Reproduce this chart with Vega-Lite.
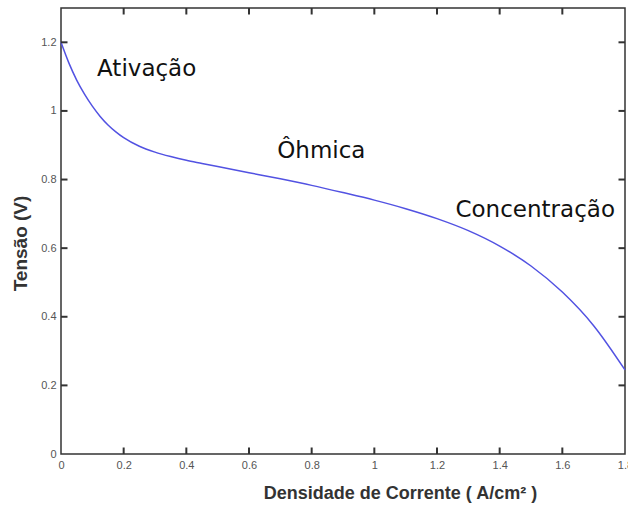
{
  "$schema": "https://vega.github.io/schema/vega-lite/v6.json",
  "width": 564,
  "height": 446,
  "autosize": {"type": "none"},
  "padding": {"left": 61, "top": 8, "right": 3, "bottom": 51},
  "background": "white",
  "config": {"view": {"stroke": "#333", "strokeWidth": 1.5}},
  "datasets": {
    "curve": [
      {"j": 0, "v": 1.2},
      {"j": 0.025, "v": 1.14},
      {"j": 0.05, "v": 1.09},
      {"j": 0.075, "v": 1.049},
      {"j": 0.1, "v": 1.014},
      {"j": 0.125, "v": 0.984},
      {"j": 0.15, "v": 0.959},
      {"j": 0.175, "v": 0.939},
      {"j": 0.2, "v": 0.922},
      {"j": 0.25, "v": 0.897},
      {"j": 0.3, "v": 0.88},
      {"j": 0.35, "v": 0.867},
      {"j": 0.4, "v": 0.856},
      {"j": 0.45, "v": 0.847},
      {"j": 0.5, "v": 0.838},
      {"j": 0.6, "v": 0.82},
      {"j": 0.7, "v": 0.802},
      {"j": 0.8, "v": 0.783},
      {"j": 0.9, "v": 0.762},
      {"j": 1.0, "v": 0.74},
      {"j": 1.1, "v": 0.715},
      {"j": 1.2, "v": 0.686},
      {"j": 1.3, "v": 0.651},
      {"j": 1.4, "v": 0.606},
      {"j": 1.5, "v": 0.548},
      {"j": 1.6, "v": 0.472},
      {"j": 1.7, "v": 0.374},
      {"j": 1.8, "v": 0.245}
    ],
    "labels": [
      {"j": 0.115, "v": 1.121, "t": "Ativação"},
      {"j": 0.69, "v": 0.882, "t": "Ôhmica"},
      {"j": 1.259, "v": 0.712, "t": "Concentração"}
    ],
    "xticks": [
      {"j": 0.2, "v": 0}, {"j": 0.4, "v": 0}, {"j": 0.6, "v": 0}, {"j": 0.8, "v": 0},
      {"j": 1.0, "v": 0}, {"j": 1.2, "v": 0}, {"j": 1.4, "v": 0}, {"j": 1.6, "v": 0},
      {"j": 0.2, "v": 1.3}, {"j": 0.4, "v": 1.3}, {"j": 0.6, "v": 1.3}, {"j": 0.8, "v": 1.3},
      {"j": 1.0, "v": 1.3}, {"j": 1.2, "v": 1.3}, {"j": 1.4, "v": 1.3}, {"j": 1.6, "v": 1.3}
    ],
    "yticks": [
      {"j": 0, "v": 0.2}, {"j": 0, "v": 0.4}, {"j": 0, "v": 0.6}, {"j": 0, "v": 0.8},
      {"j": 0, "v": 1.0}, {"j": 0, "v": 1.2},
      {"j": 1.8, "v": 0.2}, {"j": 1.8, "v": 0.4}, {"j": 1.8, "v": 0.6}, {"j": 1.8, "v": 0.8},
      {"j": 1.8, "v": 1.0}, {"j": 1.8, "v": 1.2}
    ]
  },
  "layer": [
    {
      "data": {"name": "curve"},
      "mark": {"type": "line", "color": "#5252e2", "strokeWidth": 1.5, "interpolate": "monotone"},
      "encoding": {
        "x": {
          "field": "j", "type": "quantitative",
          "scale": {"domain": [0, 1.8], "nice": false, "zero": false},
          "axis": {
            "orient": "bottom",
            "values": [0, 0.2, 0.4, 0.6, 0.8, 1, 1.2, 1.4, 1.6, 1.8],
            "format": "~g",
            "title": "Densidade de Corrente ( A/cm² )",
            "titleFont": "Liberation Sans", "titleFontSize": 18, "titleFontWeight": "bold", "titleColor": "#333",
            "titleX": 339, "titleY": 44, "titleBaseline": "alphabetic",
            "labelFont": "Liberation Sans", "labelFontSize": 11, "labelColor": "#555", "labelPadding": 5,
            "grid": false, "ticks": false, "domain": false, "labelFlush": false
          }
        },
        "y": {
          "field": "v", "type": "quantitative",
          "scale": {"domain": [0, 1.3], "nice": false},
          "axis": {
            "orient": "left",
            "values": [0, 0.2, 0.4, 0.6, 0.8, 1, 1.2],
            "format": "~g",
            "title": "Tensão (V)",
            "titleFont": "Liberation Sans", "titleFontSize": 19, "titleFontWeight": "bold", "titleColor": "#333",
            "titleX": -41, "titleY": 235, "titleBaseline": "middle",
            "labelFont": "Liberation Sans", "labelFontSize": 11, "labelColor": "#555", "labelPadding": 5,
            "grid": false, "ticks": false, "domain": false
          }
        }
      }
    },
    {
      "data": {"name": "xticks"},
      "mark": {"type": "tick", "orient": "vertical", "size": 13, "thickness": 2, "color": "#333", "opacity": 1, "clip": true},
      "encoding": {
        "x": {"field": "j", "type": "quantitative", "axis": null},
        "y": {"field": "v", "type": "quantitative", "axis": null}
      }
    },
    {
      "data": {"name": "yticks"},
      "mark": {"type": "tick", "orient": "horizontal", "size": 13, "thickness": 2, "color": "#333", "opacity": 1, "clip": true},
      "encoding": {
        "x": {"field": "j", "type": "quantitative", "axis": null},
        "y": {"field": "v", "type": "quantitative", "axis": null}
      }
    },
    {
      "data": {"name": "labels"},
      "mark": {"type": "text", "font": "Comic Sans MS, DejaVu Sans", "fontSize": 23, "color": "#111", "align": "left", "baseline": "middle"},
      "encoding": {
        "x": {"field": "j", "type": "quantitative", "axis": null},
        "y": {"field": "v", "type": "quantitative", "axis": null},
        "text": {"field": "t"}
      }
    }
  ],
  "resolve": {"axis": {"x": "independent", "y": "independent"}}
}
